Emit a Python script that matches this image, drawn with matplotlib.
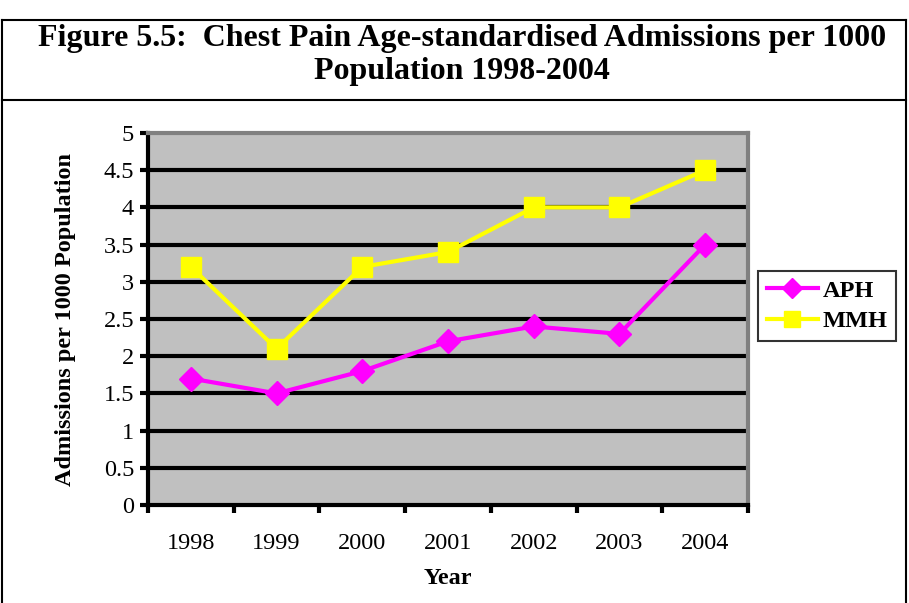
import numpy as np
import matplotlib
matplotlib.use("Agg")
from matplotlib import pyplot as plt
from matplotlib.lines import Line2D

# Data
years = ["1998", "1999", "2000", "2001", "2002", "2003", "2004"]
aph = [1.7, 1.5, 1.8, 2.2, 2.4, 2.3, 3.5]
mmh = [3.2, 2.1, 3.2, 3.4, 4.0, 4.0, 4.5]
yticks = [0, 0.5, 1, 1.5, 2, 2.5, 3, 3.5, 4, 4.5, 5]

plt.rcParams['font.family'] = ['Liberation Serif', 'DejaVu Serif']

W, H = 909, 603
fig = plt.figure(figsize=(W / 100, H / 100), dpi=100)

# Outer frame and title divider
fig.add_artist(Line2D([2 / W, 2 / W], [0, 1 - 20 / H], transform=fig.transFigure, color='black', lw=1.5))
fig.add_artist(Line2D([906 / W, 906 / W], [0, 1 - 20 / H], transform=fig.transFigure, color='black', lw=1.5))
fig.add_artist(Line2D([2 / W, 906 / W], [1 - 20 / H, 1 - 20 / H], transform=fig.transFigure, color='black', lw=1.5))
fig.add_artist(Line2D([2 / W, 906 / W], [1 - 100 / H, 1 - 100 / H], transform=fig.transFigure, color='black', lw=1.5))

fig.text(462 / W, 1 - 55 / H, "Figure 5.5:  Chest Pain Age-standardised Admissions per 1000\nPopulation 1998-2004",
         ha='center', va='center', fontsize=23, fontweight='bold', linespacing=1.2)

ax = fig.add_axes([148 / W, 1 - 505 / H, 600 / W, 372 / H])
ax.set_facecolor('#c0c0c0')

x = np.arange(len(years))
ax.set_xlim(-0.5, len(years) - 0.5)
ax.set_ylim(0, 5)

for v in yticks[1:-1]:
    ax.axhline(v, color='black', lw=3, zorder=1)

ax.plot(x, aph, color='#ff00ff', lw=3, marker='D', markersize=12, label='APH', zorder=3, clip_on=False)
ax.plot(x, mmh, color='#ffff00', lw=3, marker='s', markersize=14, label='MMH', zorder=3, clip_on=False)

for side in ['left', 'bottom']:
    ax.spines[side].set_color('black')
    ax.spines[side].set_linewidth(3)
for side in ['top', 'right']:
    ax.spines[side].set_color('#808080')
    ax.spines[side].set_linewidth(3)

ax.set_yticks(yticks)
ax.set_yticklabels([f"{v:g}" for v in yticks], fontsize=17.5)
ax.set_xticks(np.arange(-0.5, len(years)))
ax.set_xticklabels([])
ax.set_xticks(x, minor=True)
ax.set_xticklabels(years, minor=True, fontsize=17.5)
ax.tick_params(axis='both', which='major', length=6, width=3, color='black')
ax.tick_params(axis='x', which='minor', length=0, pad=20)
ax.tick_params(axis='y', pad=4)

ax.set_ylabel("Admissions per 1000 Population", fontsize=17.5, fontweight='bold', labelpad=20)
ax.set_xlabel("Year", fontsize=17.5, fontweight='bold', labelpad=10)

leg = ax.legend(loc='center left', bbox_to_anchor=(758 / W, 1 - 306 / H), bbox_transform=fig.transFigure,
                frameon=True, fancybox=False, edgecolor='black', borderaxespad=0,
                prop={'weight': 'bold', 'size': 17.5}, handlelength=2.1, borderpad=0.35, labelspacing=0.35,
                handletextpad=0.2, markerscale=0.85)
leg.get_frame().set_linewidth(1.5)

fig.savefig("out.png", dpi=100)
